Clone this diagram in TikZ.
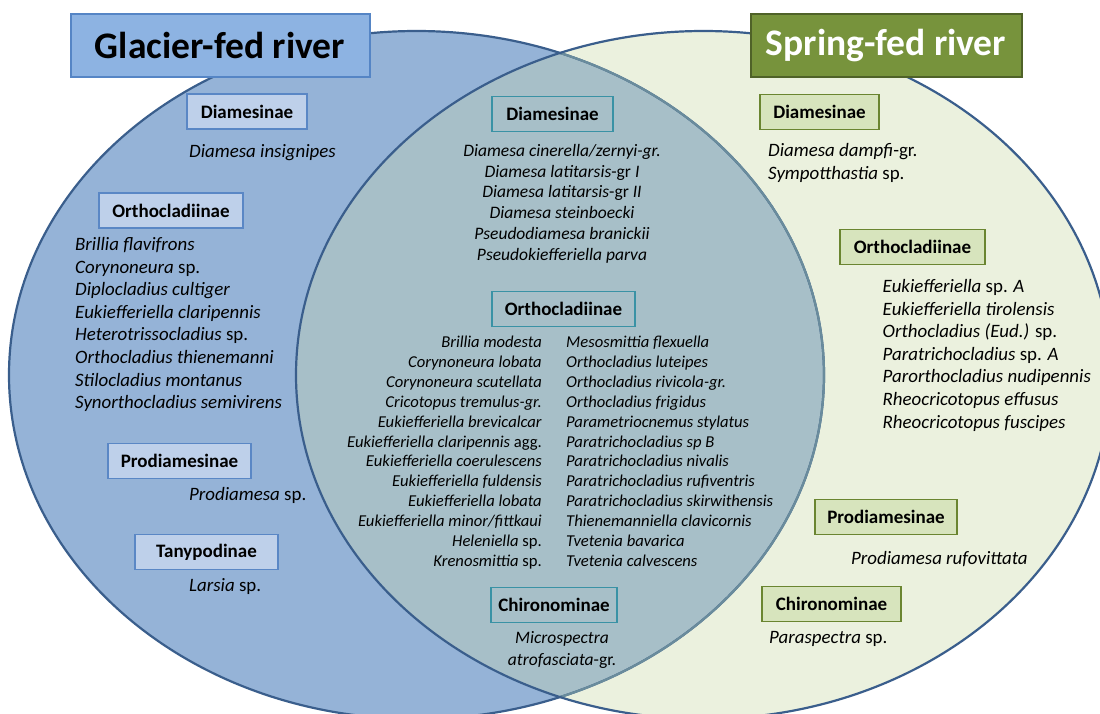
\documentclass[tikz,border=0pt]{standalone}
\usepackage{fontspec}
\setmainfont{Carlito}
\definecolor{leftfill}{HTML}{95B3D7}
\definecolor{rightfill}{HTML}{EBF1DE}
\definecolor{midfill}{HTML}{A7BFC8}
\definecolor{ringblue}{HTML}{3A5E8C}
\definecolor{ringgray}{HTML}{6A8C9C}
\definecolor{gtitlefill}{HTML}{8DB3E2}
\definecolor{gtitledraw}{HTML}{5585C5}
\definecolor{stitlefill}{HTML}{77933C}
\definecolor{stitledraw}{HTML}{4F6228}
\definecolor{lboxfill}{HTML}{BED0EA}
\definecolor{lboxdraw}{HTML}{5A87C5}
\definecolor{mboxdraw}{HTML}{3A92A5}
\definecolor{rboxfill}{HTML}{D7E4BD}
\definecolor{rboxdraw}{HTML}{6A8530}
\begin{document}
\begin{tikzpicture}[x=1pt,y=-1pt,
  titlebox/.style={line width=2pt, inner sep=0pt, minimum height=63pt, font=\bfseries\fontsize{37.5}{42}\selectfont},
  subbox/.style={line width=1.8pt, inner sep=0pt, minimum height=35pt, font=\bfseries\fontsize{19}{21}\selectfont, text=black},
  lsub/.style={subbox, draw=lboxdraw, fill=lboxfill},
  msub/.style={subbox, draw=mboxdraw, fill=midfill},
  rsub/.style={subbox, draw=rboxdraw, fill=rboxfill},
  bigtxt/.style={inner sep=0pt, font=\fontsize{18.9}{22}\selectfont},
  midtxt/.style={inner sep=0pt, font=\fontsize{17.5}{20}\selectfont},
  smalltxt/.style={inner sep=0pt, font=\fontsize{16.6}{19}\selectfont},
  ring/.style={line width=2.2pt},
]
\useasboundingbox (0,0) rectangle (1100,713);
\fill[white] (0,0) rectangle (1100,713);
% ellipses
\fill[leftfill] (416.5,375) ellipse [x radius=407.5pt, y radius=344pt];
\fill[rightfill] (703.5,375) ellipse [x radius=407.5pt, y radius=344pt];
\begin{scope}
  \clip (416.5,375) ellipse [x radius=407.5pt, y radius=344pt];
  \fill[midfill] (703.5,375) ellipse [x radius=407.5pt, y radius=344pt];
\end{scope}
\draw[ring, ringblue] (416.5,375) ellipse [x radius=407.5pt, y radius=344pt];
\begin{scope}
  \clip (703.5,375) ellipse [x radius=407.5pt, y radius=344pt];
  \draw[ring, ringgray] (416.5,375) ellipse [x radius=407.5pt, y radius=344pt];
\end{scope}
\draw[ring, ringblue] (703.5,375) ellipse [x radius=407.5pt, y radius=344pt];

% titles
\node[titlebox, draw=gtitledraw, fill=gtitlefill, minimum width=299pt] (gtitle) at (220,45.5) {Glacier-fed river};
\node[titlebox, draw=stitledraw, fill=stitlefill, text=white, minimum width=271pt] (stitle) at (886,45.5) {Spring-fed river};

% ---------- glacier-fed only ----------
\node[lsub, minimum width=120pt] (gdia) at (247,111.5) {Diamesinae};
\node[bigtxt, anchor=base west] (gdial) at (189,157) {\textit{Diamesa insignipes}};
\node[lsub, minimum width=144pt] (gorth) at (171,210.5) {Orthocladiinae};
\foreach \t [count=\i] in {{\textit{Brillia flavifrons}},{\textit{Corynoneura} sp.},{\textit{Diplocladius cultiger}},{\textit{Eukiefferiella claripennis}},{\textit{Heterotrissocladius} sp.},{\textit{Orthocladius thienemanni}},{\textit{Stilocladius montanus}},{\textit{Synorthocladius semivirens}}}
  \node[bigtxt, anchor=base west] (gol\i) at (75,{250.5+(\i-1)*22.6}) {\t};
\node[lsub, minimum width=143pt] (gprod) at (179.5,461) {Prodiamesinae};
\node[bigtxt, anchor=base west] (gprodl) at (189,500) {\textit{Prodiamesa} sp.};
\node[lsub, minimum width=143pt] (gtany) at (206.5,552) {Tanypodinae};
\node[bigtxt, anchor=base west] (gtanyl) at (189,591) {\textit{Larsia} sp.};

% ---------- shared ----------
\node[msub, minimum width=121pt] (mdia) at (552.5,114) {Diamesinae};
\foreach \t [count=\i] in {{\textit{Diamesa cinerella/zernyi-gr.}},{\textit{Diamesa latitarsis}-gr \textit{I}},{\textit{Diamesa latitarsis}-gr \textit{II}},{\textit{Diamesa steinboecki}},{\textit{Pseudodiamesa branickii}},{\textit{Pseudokiefferiella parva}}}
  \node[midtxt, anchor=base] (mdl\i) at (562,{156.5+(\i-1)*20.7}) {\t};
\node[msub, minimum width=143pt] (morth) at (563.5,309) {Orthocladiinae};
\foreach \t [count=\i] in {{\textit{Brillia modesta}},{\textit{Corynoneura lobata}},{\textit{Corynoneura scutellata}},{\textit{Cricotopus tremulus-gr.}},{\textit{Eukiefferiella brevicalcar}},{\textit{Eukiefferiella claripennis} agg.},{\textit{Eukiefferiella coerulescens}},{\textit{Eukiefferiella fuldensis}},{\textit{Eukiefferiella lobata}},{\textit{Eukiefferiella minor/fittkaui}},{\textit{Heleniella} sp.},{\textit{Krenosmittia} sp.}}
  \node[smalltxt, anchor=base east] (mla\i) at (542,{347.5+(\i-1)*19.9}) {\t};
\foreach \t [count=\i] in {{\textit{Mesosmittia flexuella}},{\textit{Orthocladius luteipes}},{\textit{Orthocladius rivicola-gr.}},{\textit{Orthocladius frigidus}},{\textit{Parametriocnemus stylatus}},{\textit{Paratrichocladius sp B}},{\textit{Paratrichocladius nivalis}},{\textit{Paratrichocladius rufiventris}},{\textit{Paratrichocladius skirwithensis}},{\textit{Thienemanniella clavicornis}},{\textit{Tvetenia bavarica}},{\textit{Tvetenia calvescens}}}
  \node[smalltxt, anchor=base west] (mlb\i) at (566,{347.5+(\i-1)*19.9}) {\t};
\node[msub, minimum width=126pt] (mchir) at (554,605) {Chironominae};
\node[midtxt, anchor=base] (mchl1) at (562,643) {\textit{Microspectra}};
\node[midtxt, anchor=base] (mchl2) at (562,665) {\textit{atrofasciata}-gr.};

% ---------- spring-fed only ----------
\node[rsub, minimum width=119pt] (sdia) at (819.5,112) {Diamesinae};
\node[bigtxt, anchor=base west] (sdl1) at (768,156.5) {\textit{Diamesa dampfi}-gr.};
\node[bigtxt, anchor=base west] (sdl2) at (768,179) {\textit{Sympotthastia} sp.};
\node[rsub, minimum width=145pt] (sorth) at (912.5,247) {Orthocladiinae};
\foreach \t [count=\i] in {{\textit{Eukiefferiella} sp. \textit{A}},{\textit{Eukiefferiella tirolensis}},{\textit{Orthocladius (Eud.)} sp.},{\textit{Paratrichocladius} sp. \textit{A}},{\textit{Parorthocladius nudipennis}},{\textit{Rheocricotopus effusus}},{\textit{Rheocricotopus fuscipes}}}
  \node[bigtxt, anchor=base west] (sol\i) at (882.5,{292.5+(\i-1)*22.6}) {\t};
\node[rsub, minimum width=142pt] (sprod) at (886,517) {Prodiamesinae};
\node[bigtxt, anchor=base west] (sprodl) at (851,564) {\textit{Prodiamesa rufovittata}};
\node[rsub, minimum width=139pt] (schir) at (831.5,604) {Chironominae};
\node[bigtxt, anchor=base west] (schl) at (769,643) {\textit{Paraspectra} sp.};
\end{tikzpicture}
\end{document}
